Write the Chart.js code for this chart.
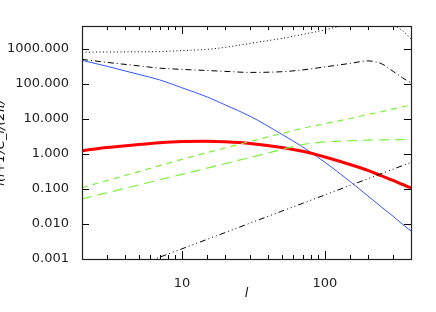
<!DOCTYPE html>
<html>
<head>
<meta charset="utf-8">
<script src="https://cdn.jsdelivr.net/npm/chart.js@4/dist/chart.umd.min.js"></script>
<style>
html,body{margin:0;padding:0;background:#fff;overflow:hidden;}
#wrap{position:absolute;left:-10px;top:0;width:446px;height:312px;}
</style>
</head>
<body>
<div id="wrap"><canvas id="c"></canvas></div>
<script>
// multipole values (x)
const ells = [2,3,5,7,10,15,20,30,50,70,100,150,200,250,300,350,400];
// series values
const dottedTop   = [805,815,826,837,894,968,1104,1436,1995,2596,3490,5180,6300,5740,4850,3270,1930];
const dashDotTop  = [501,411,327,281,260,241,228,213,223,251,306,385,454,373,228,148,107];
const blueSolid   = [470,318,186,130,77.4,42.5,25.3,11.9,3.63,1.58,0.58,0.163,0.063,0.0298,0.0166,0.0097,0.0063];
const redThick    = [1.24,1.53,1.87,2.09,2.26,2.32,2.23,2.0,1.53,1.19,0.82,0.50,0.338,0.235,0.175,0.134,0.107];
const greenShort  = [0.109,0.174,0.314,0.463,0.70,1.09,1.48,2.28,3.83,5.42,7.3,10.3,13.4,16.1,19.3,22.0,25.1];
const greenLong   = [0.052,0.078,0.13,0.183,0.261,0.393,0.525,0.79,1.34,1.86,2.2,2.38,2.48,2.52,2.56,2.58,2.6];
const dashDot3    = [0.000164,0.000306,0.00067,0.00113,0.00195,0.00364,0.00566,0.0106,0.0233,0.039,0.0676,0.126,0.196,0.2775,0.367,0.466,0.574];
const xTickLabels = ['10','100'];
const yTickLabels = ['0.001','0.010','0.100','1.000','10.000','100.000','1000.000'];

function pts(arr){ return ells.map((l,i)=>({x:l,y:arr[i]})); }
function isPow10(v){ const e=Math.log10(v); return Math.abs(e-Math.round(e))<1e-9; }

const ds = (data,color,width,dash)=>({data:pts(data),borderColor:color,borderWidth:width,borderDash:dash,pointRadius:0,fill:false,cubicInterpolationMode:'monotone'});

const tickPlugin = {
  id:'boxTicks',
  afterDatasetsDraw(chart){
    const {ctx, chartArea:a, scales:{x,y}} = chart;
    ctx.save();
    ctx.setLineDash([]);
    ctx.strokeStyle='#000'; ctx.lineWidth=1;
    ctx.beginPath();
    x.ticks.forEach(t=>{
      const px=Math.round(x.getPixelForValue(t.value))+0.5;
      const len=isPow10(t.value)?8:4;
      ctx.moveTo(px,a.bottom); ctx.lineTo(px,a.bottom-len);
      ctx.moveTo(px,a.top); ctx.lineTo(px,a.top+len);
    });
    y.ticks.forEach(t=>{
      const py=Math.round(y.getPixelForValue(t.value))+0.5;
      ctx.moveTo(a.left,py); ctx.lineTo(a.left+7,py);
      ctx.moveTo(a.right,py); ctx.lineTo(a.right-7,py);
    });
    ctx.stroke();
    ctx.strokeStyle='#222';
    ctx.lineWidth=1.2;
    ctx.strokeRect(Math.round(a.left)+0.5,Math.round(a.top)+0.5,Math.round(a.right-a.left),Math.round(a.bottom-a.top));
    ctx.restore();
  }
};

new Chart(document.getElementById('c'),{
  type:'line',
  data:{datasets:[
    ds(dottedTop,'#000',1,[1,2.5]),
    ds(dashDotTop,'#000',1,[6,3,1,3]),
    ds(greenShort,'#7df03a',1.2,[6,5]),
    ds(greenLong,'#7df03a',1.2,[10,6]),
    ds(dashDot3,'#000',1,[6,3,1,3,1,3,1,3]),
    ds(redThick,'#ff0000',3,[]),
    ds(blueSolid,'#3355ff',1,[])
  ]},
  options:{
    responsive:true, maintainAspectRatio:false, animation:false,
    layout:{padding:{top:26,right:25,left:0,bottom:0}},
    plugins:{legend:{display:false},tooltip:{enabled:false}},
    scales:{
      x:{type:'logarithmic',min:2,max:400,
        grid:{display:false},border:{display:false},
        afterFit(s){s.height=53;},
        ticks:{autoSkip:false,maxRotation:0,padding:9,color:'#222',
          font:{family:'DejaVu Sans',size:13},
          callback(v){ return xTickLabels.includes(String(v))?String(v):''; }},
        title:{display:true,text:'l',color:'#111',padding:{top:0,bottom:11},
          font:{family:'DejaVu Sans',size:13,style:'italic'}}
      },
      y:{type:'logarithmic',min:0.001,max:4500,
        grid:{display:false},border:{display:false},
        afterFit(s){s.width=92;},
        afterBuildTicks(s){ s.ticks=s.ticks.filter(t=>isPow10(t.value)); },
        ticks:{autoSkip:false,padding:5,color:'#222',
          font:{family:'DejaVu Sans',size:13},
          callback(v){ const lab=Number(v).toFixed(3); return yTickLabels.includes(lab)?lab:''; }},
        title:{display:true,text:'l(l+1)C_l/(2π)',color:'#111',padding:{top:3,bottom:0},
          font:{family:'DejaVu Sans',size:13,style:'italic'}}
      }
    }
  },
  plugins:[tickPlugin]
});
</script>
</body>
</html>
